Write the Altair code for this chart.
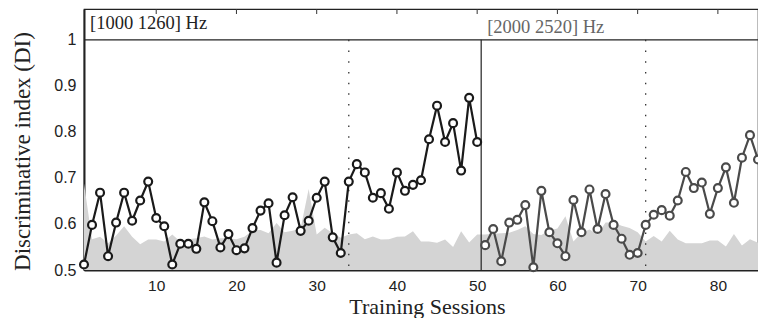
import altair as alt
import pandas as pd

# ---- data ----
sessions_a = list(range(1, 51))
di_a = [0.512, 0.598, 0.668, 0.530, 0.603, 0.668, 0.607, 0.651, 0.692, 0.613,
        0.595, 0.512, 0.557, 0.557, 0.546, 0.647, 0.606, 0.549, 0.578, 0.543,
        0.547, 0.591, 0.629, 0.645, 0.516, 0.619, 0.658, 0.585, 0.607, 0.657,
        0.692, 0.571, 0.537, 0.692, 0.730, 0.712, 0.657, 0.667, 0.633, 0.712,
        0.672, 0.685, 0.695, 0.784, 0.857, 0.778, 0.819, 0.716, 0.874, 0.778]

sessions_b = list(range(51, 86))
di_b = [0.554, 0.589, 0.519, 0.603, 0.609, 0.641, 0.506, 0.672, 0.582, 0.558,
        0.530, 0.652, 0.582, 0.675, 0.589, 0.665, 0.598, 0.568, 0.533, 0.537,
        0.598, 0.620, 0.630, 0.618, 0.651, 0.713, 0.678, 0.690, 0.622, 0.678,
        0.723, 0.646, 0.744, 0.793, 0.740]

sessions_all = list(range(1, 86))
chance = [0.688, 0.567, 0.572, 0.558, 0.575, 0.595, 0.572, 0.556, 0.566, 0.566,
          0.562, 0.577, 0.562, 0.567, 0.569, 0.573, 0.566, 0.569, 0.569, 0.567,
          0.572, 0.586, 0.587, 0.580, 0.602, 0.582, 0.585, 0.590, 0.676, 0.577,
          0.592, 0.580, 0.570, 0.577, 0.580, 0.567, 0.573, 0.566, 0.567, 0.572,
          0.573, 0.584, 0.562, 0.562, 0.559, 0.566, 0.550, 0.584, 0.560, 0.577,
          0.577, 0.579, 0.580, 0.581, 0.587, 0.595, 0.578, 0.576, 0.586, 0.590,
          0.617, 0.562, 0.581, 0.588, 0.577, 0.603, 0.603, 0.596, 0.591, 0.582,
          0.562, 0.574, 0.562, 0.585, 0.566, 0.558, 0.558, 0.558, 0.564, 0.564,
          0.551, 0.578, 0.553, 0.567, 0.559]

x_ticks = [10, 20, 30, 40, 50, 60, 70, 80]
y_ticks = [0.5, 0.6, 0.7, 0.8, 0.9, 1.0]
block_divider = [50.5]
dotted_sessions = [34, 71]
block_starts = [1, 50.5]
block_labels = ["[1000 1260] Hz", "[2000 2520] Hz"]
strip_level = 1.0

X_DOMAIN = [1, 85]
Y_DOMAIN = [0.5, 1.067]
W, H = 674, 261

df_a = pd.DataFrame({"session": sessions_a, "di": di_a})
df_b = pd.DataFrame({"session": sessions_b, "di": di_b})
df_c = pd.DataFrame({"session": sessions_all, "chance": chance})
df_dot = pd.DataFrame({"session": dotted_sessions})
df_div = pd.DataFrame({"session": block_divider})
df_xt = pd.DataFrame({"session": x_ticks})
df_lab1 = pd.DataFrame({"session": block_starts[:1], "label": block_labels[:1]})
df_lab2 = pd.DataFrame({"session": block_starts[1:], "label": block_labels[1:]})

xscale = alt.Scale(domain=X_DOMAIN, nice=False, zero=False)
yscale = alt.Scale(domain=Y_DOMAIN, nice=False, zero=False)

x_axis = alt.Axis(
    values=x_ticks, grid=False, tickSize=0, labelPadding=8,
    labelFont="Liberation Sans", labelFontSize=15.5, labelColor="#222",
    domain=True, domainColor="#222", domainWidth=2,
    title="Training Sessions", titleFont="Liberation Serif", titleFontSize=22,
    titleFontWeight="normal", titleColor="#222",
    titleX=343, titleY=43.5, titleBaseline="alphabetic", titleAlign="center",
)
y_axis = alt.Axis(
    values=y_ticks, format=".1~f", grid=False, tickSize=0, labelPadding=8,
    labelFont="Liberation Sans", labelFontSize=16, labelColor="#222",
    domain=True, domainColor="#222", domainWidth=2,
    title="Discriminative index (DI)", titleFont="Liberation Serif", titleFontSize=23,
    titleFontWeight="normal", titleColor="#222", titleAngle=270,
    titleX=-61.5, titleY=142, titleBaseline="middle", titleAlign="center",
)

X = alt.X("session:Q", scale=xscale, axis=x_axis)

area = alt.Chart(df_c).mark_area(color="#d4d4d4", opacity=1).encode(
    x=X,
    y=alt.Y("chance:Q", scale=yscale, axis=y_axis),
    y2=alt.datum(0.5),
)

hline = alt.Chart(df_div).mark_rule(color="#222", strokeWidth=1.3).encode(
    x=alt.datum(X_DOMAIN[0]), x2=alt.datum(X_DOMAIN[1]), y=alt.datum(strip_level)
)

divider = alt.Chart(df_div).mark_rule(color="#222", strokeWidth=1.2).encode(
    x="session:Q", y=alt.datum(0.5), y2=alt.datum(strip_level)
)

dotted = alt.Chart(df_dot).mark_rule(color="#333", strokeWidth=1.3, strokeDash=[1.5, 9.2]).encode(
    x="session:Q", y=alt.datum(strip_level), y2=alt.datum(0.5)
)

top_ticks = alt.Chart(df_xt).mark_rule(color="#333", strokeWidth=1).encode(
    x="session:Q", y=alt.value(0), y2=alt.value(5)
)

def series(df, color):
    line = alt.Chart(df).mark_line(color=color, strokeWidth=2.2).encode(
        x="session:Q", y="di:Q"
    )
    pts = alt.Chart(df).mark_point(
        filled=True, fill="white", stroke=color, strokeWidth=2.2, size=62, opacity=1
    ).encode(x="session:Q", y="di:Q")
    return line, pts

la, pa = series(df_a, "#1a1a1a")
lb, pb = series(df_b, "#4a4a4a")

lab1 = alt.Chart(df_lab1).mark_text(
    align="left", baseline="alphabetic", dx=6, font="Liberation Serif",
    fontSize=18.5, color="#222"
).encode(x="session:Q", y=alt.value(20), text="label:N")

lab2 = alt.Chart(df_lab2).mark_text(
    align="left", baseline="alphabetic", dx=6, font="Liberation Serif",
    fontSize=18.5, color="#666"
).encode(x="session:Q", y=alt.value(24), text="label:N")

chart = alt.layer(
    area, top_ticks, hline, divider, dotted, la, pa, lb, pb, lab1, lab2
).properties(
    width=W, height=H,
    autosize=alt.AutoSizeParams(type="none"),
    padding={"left": 76, "top": 1, "right": 0, "bottom": 48},
    background="white",
).configure_view(
    stroke="#222", strokeWidth=1.2
)

chart.save("out.html", embed_options={"renderer": "svg", "actions": False})
